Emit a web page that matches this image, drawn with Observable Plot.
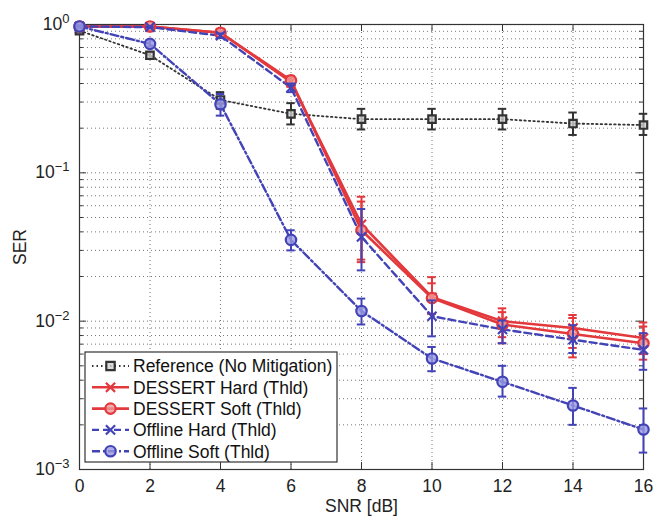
<!DOCTYPE html>
<html><head><meta charset="utf-8">
<script src="https://cdn.jsdelivr.net/npm/d3@7"></script>
<script src="https://cdn.jsdelivr.net/npm/@observablehq/plot@0.6"></script>
<style>body{margin:0;background:#fff;} #chart{width:654px;height:523px;}</style>
</head><body><div id="chart"></div>
<script>
// ---- data ----
const snr = [0, 2, 4, 6, 8, 10, 12, 14, 16];
const xTicks = [0, 2, 4, 6, 8, 10, 12, 14, 16];
const yDecades = [1e-3, 1e-2, 1e-1, 1];
const seriesNames = ["Reference (No Mitigation)", "DESSERT Hard (Thld)", "DESSERT Soft (Thld)", "Offline Hard (Thld)", "Offline Soft (Thld)"];

const refSER = [0.91, 0.62, 0.31, 0.25, 0.23, 0.23, 0.23, 0.215, 0.21];
const refLo  = [0.88, 0.59, 0.27, 0.212, 0.196, 0.196, 0.196, 0.18, 0.18];
const refHi  = [0.94, 0.65, 0.35, 0.295, 0.27, 0.27, 0.27, 0.255, 0.25];

const dHardSER = [0.97, 0.97, 0.88, 0.41, 0.045, 0.0145, 0.0100, 0.0090, 0.0077];
const dHardLo  = [0.96, 0.96, 0.86, 0.38, 0.026, 0.0112, 0.0078, 0.0066, 0.0060];
const dHardHi  = [0.98, 0.98, 0.90, 0.44, 0.069, 0.0198, 0.0122, 0.0110, 0.0098];

const dSoftSER = [0.97, 0.97, 0.88, 0.42, 0.041, 0.0143, 0.0095, 0.0082, 0.0071];
const dSoftLo  = [0.96, 0.96, 0.86, 0.39, 0.025, 0.0112, 0.0071, 0.0057, 0.0055];
const dSoftHi  = [0.98, 0.98, 0.90, 0.45, 0.064, 0.0180, 0.0115, 0.0105, 0.0092];

const oHardSER = [0.97, 0.96, 0.84, 0.375, 0.037, 0.0108, 0.0088, 0.0075, 0.0064];
const oHardLo  = [0.96, 0.95, 0.81, 0.35, 0.022, 0.0079, 0.0071, 0.0061, 0.0047];
const oHardHi  = [0.98, 0.97, 0.87, 0.40, 0.057, 0.0138, 0.0101, 0.0094, 0.0083];

const oSoftSER = [0.97, 0.74, 0.29, 0.0353, 0.0117, 0.0056, 0.0039, 0.0027, 0.00186];
const oSoftLo  = [0.96, 0.71, 0.243, 0.030, 0.0095, 0.0046, 0.0031, 0.0020, 0.0013];
const oSoftHi  = [0.98, 0.78, 0.34, 0.041, 0.0142, 0.0067, 0.0050, 0.00355, 0.00258];

// ---- styling ----
const RED = "#e3383c", BLUE = "#4343b8", BLACK = "#333333";
const FONT = "'Liberation Sans', Arial, Helvetica, sans-serif";
const FS = 17.5;
const mk = (ser, lo, hi) => snr.map((x, i) => ({x, y: ser[i], lo: lo[i], hi: hi[i]}));
const series = [
  {name: seriesNames[0], data: mk(refSER, refLo, refHi), color: BLACK, dash: "1.5,3", sw: 1.8, symbol: "square", fill: "#cfcfcf", r: 4.2},
  {name: seriesNames[1], data: mk(dHardSER, dHardLo, dHardHi), color: RED, dash: null, sw: 2.6, symbol: "times", fill: "none", r: 4.2},
  {name: seriesNames[2], data: mk(dSoftSER, dSoftLo, dSoftHi), color: RED, dash: null, sw: 2.6, symbol: "circle", fill: "#f09a9a", r: 5.2},
  {name: seriesNames[3], data: mk(oHardSER, oHardLo, oHardHi), color: BLUE, dash: "7,4", sw: 2.4, symbol: "times", fill: "none", r: 4.2},
  {name: seriesNames[4], data: mk(oSoftSER, oSoftLo, oSoftHi), color: BLUE, dash: "8,3,2,3", sw: 2.4, symbol: "circle", fill: "#9a9ae0", r: 5.2}
];

const minorY = [];
for (const e of [-3, -2, -1]) for (let m = 2; m <= 9; m++) minorY.push(m * Math.pow(10, e));

const majLenX = 0.2, minLenX = 0.11;           // tick lengths in x units
const tickFactorY = Math.pow(10, 7 / 148.3);   // tick length in y (log) units

const marks = [
  Plot.gridX(xTicks, {stroke: "#777", strokeOpacity: 1, strokeDasharray: "1,3"}),
  Plot.gridY(minorY, {stroke: "#777", strokeOpacity: 1, strokeDasharray: "1,3"}),
  Plot.gridY(yDecades, {stroke: "#777", strokeOpacity: 1, strokeDasharray: "1,3"}),
  // inward ticks
  Plot.ruleY(yDecades, {y: d => d, x1: () => 0, x2: () => majLenX, stroke: BLACK}),
  Plot.ruleY(minorY, {y: d => d, x1: () => 0, x2: () => minLenX, stroke: BLACK}),
  Plot.ruleY(yDecades, {y: d => d, x1: () => 16, x2: () => 16 - majLenX, stroke: BLACK}),
  Plot.ruleY(minorY, {y: d => d, x1: () => 16, x2: () => 16 - minLenX, stroke: BLACK}),
  Plot.ruleX(xTicks, {x: d => d, y1: () => 1e-3, y2: () => 1e-3 * tickFactorY, stroke: BLACK}),
  Plot.ruleX(xTicks, {x: d => d, y1: () => 1, y2: () => 1 / tickFactorY, stroke: BLACK}),
  Plot.frame({stroke: BLACK, strokeWidth: 1.2}),
  Plot.axisX(xTicks, {tickSize: 0, tickPadding: 10, fontSize: FS, label: "SNR [dB]", labelAnchor: "center", labelArrow: "none", labelOffset: 42}),
  Plot.axisY(yDecades, {tickSize: 0, tickPadding: 10, fontSize: FS, tickFormat: d => String(Math.round(Math.log10(d))), label: "SER", labelAnchor: "center", labelArrow: "none", labelOffset: 66})
];

for (const s of series) {
  marks.push(Plot.line(s.data, {x: "x", y: "y", stroke: s.color, strokeWidth: s.sw, strokeDasharray: s.dash}));
}
for (const s of series) {
  marks.push(Plot.ruleX(s.data, {x: "x", y1: "lo", y2: "hi", stroke: s.color, strokeWidth: 2}));
  marks.push(Plot.ruleY(s.data, {y: "lo", x1: d => d.x - 0.12, x2: d => d.x + 0.12, stroke: s.color, strokeWidth: 2}));
  marks.push(Plot.ruleY(s.data, {y: "hi", x1: d => d.x - 0.12, x2: d => d.x + 0.12, stroke: s.color, strokeWidth: 2}));
  marks.push(Plot.dot(s.data, {x: "x", y: "y", symbol: s.symbol, r: s.r, stroke: s.color, strokeWidth: 2.2, fill: s.fill, fillOpacity: 0.8}));
}

const plot = Plot.plot({
  width: 654, height: 523,
  marginLeft: 79, marginRight: 11, marginTop: 24, marginBottom: 54,
  style: {fontFamily: FONT, fontSize: FS + "px", color: "#222", background: "#fff"},
  x: {domain: [0, 16]},
  y: {type: "log", domain: [1e-3, 1]},
  marks
});
document.getElementById("chart").appendChild(plot);

const svg = d3.select(plot);
// uniform text size for axis text
svg.selectAll('g[aria-label="x-axis tick label"], g[aria-label="y-axis tick label"], g[aria-label="x-axis label"], g[aria-label="y-axis label"]')
  .attr("font-size", FS).style("font-size", FS + "px");
svg.selectAll('g[aria-label="x-axis tick label"] text, g[aria-label="y-axis tick label"] text, g[aria-label="x-axis label"] text, g[aria-label="y-axis label"] text')
  .style("font-size", FS + "px");

// superscript exponents on y tick labels
svg.selectAll('g[aria-label="y-axis tick label"] text').each(function() {
  const t = d3.select(this);
  const e = t.text().replace("-", "\u2212").replace("\u2212", "\u2212");
  t.text(null);
  t.append("tspan").text("10");
  t.append("tspan").attr("dy", "-0.55em").style("font-size", "13px").text(e);
});

// legend (inside plot, lower-left)
const lg = svg.append("g").attr("font-family", FONT).attr("font-size", FS).attr("text-anchor", "start");
const lx = 85, ly = 352, lw = 252, lh = 110, step = 21.3;
lg.append("rect").attr("x", lx).attr("y", ly).attr("width", lw).attr("height", lh).attr("fill", "#fff").attr("stroke", BLACK).attr("stroke-width", 1.2);
series.forEach((s, i) => {
  const cy = ly + 14 + i * step;
  lg.append("line").attr("x1", lx + 7).attr("x2", lx + 44).attr("y1", cy).attr("y2", cy)
    .attr("stroke", s.color).attr("stroke-width", s.sw).attr("stroke-dasharray", s.dash);
  const sym = d3.symbol().type(s.symbol === "square" ? d3.symbolSquare : s.symbol === "circle" ? d3.symbolCircle : d3.symbolTimes)
    .size(s.symbol === "circle" ? Math.PI * s.r * s.r : s.symbol === "square" ? 4 * s.r * s.r : 4 * s.r * s.r * 0.8);
  lg.append("path").attr("d", sym()).attr("transform", `translate(${lx + 25.5},${cy})`)
    .attr("stroke", s.color).attr("stroke-width", 2.2).attr("fill", s.fill).attr("fill-opacity", 0.8);
  lg.append("text").attr("x", lx + 48).attr("y", cy).attr("dy", "0.36em").attr("fill", "#111").attr("text-anchor", "start").style("font-size", FS + "px").text(s.name);
});
</script>
</body></html>
